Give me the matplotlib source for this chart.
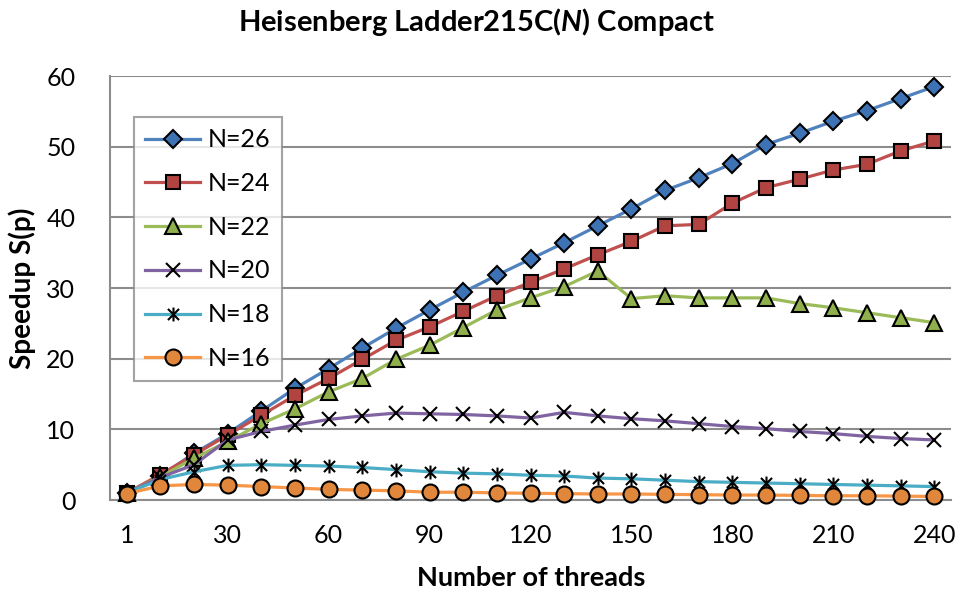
import numpy as np
import matplotlib
matplotlib.use("Agg")
import matplotlib.pyplot as plt
from matplotlib.path import Path

plt.rcParams['font.family'] = ['Lato', 'DejaVu Sans']
plt.rcParams['mathtext.fontset'] = 'custom'
plt.rcParams['mathtext.it'] = 'Lato:italic:bold'
plt.rcParams['mathtext.rm'] = 'Lato:bold'

threads = [1, 10, 20, 30, 40, 50, 60, 70, 80, 90, 100, 110, 120,
           130, 140, 150, 160, 170, 180, 190, 200, 210, 220, 230, 240]

n26 = [1.0, 3.4, 6.6, 9.4, 12.6, 15.8, 18.6, 21.5, 24.3, 26.9, 29.4, 31.8, 34.1,
       36.4, 38.8, 41.2, 43.8, 45.6, 47.6, 50.3, 51.9, 53.6, 55.1, 56.8, 58.5]
n24 = [1.0, 3.6, 6.4, 9.2, 12.0, 14.8, 17.2, 19.9, 22.6, 24.5, 26.7, 28.9, 30.8,
       32.7, 34.7, 36.6, 38.8, 39.0, 42.0, 44.2, 45.4, 46.7, 47.5, 49.4, 50.8]
n22 = [1.0, 3.3, 5.9, 8.3, 10.8, 12.9, 15.3, 17.2, 19.9, 21.9, 24.4, 26.9, 28.6,
       30.2, 32.4, 28.5, 28.9, 28.6, 28.6, 28.6, 27.8, 27.2, 26.5, 25.8, 25.1]
n20 = [1.0, 3.2, 5.0, 8.5, 9.7, 10.6, 11.4, 11.9, 12.3, 12.2, 12.1, 11.9, 11.6,
       12.4, 11.9, 11.5, 11.2, 10.8, 10.4, 10.1, 9.7, 9.4, 9.0, 8.7, 8.5]
n18 = [1.0, 2.9, 4.0, 4.9, 5.0, 4.9, 4.8, 4.6, 4.3, 4.0, 3.8, 3.7, 3.5,
       3.4, 3.1, 3.0, 2.8, 2.6, 2.5, 2.4, 2.3, 2.2, 2.1, 2.0, 1.9]
n16 = [0.9, 2.0, 2.2, 2.1, 1.9, 1.7, 1.5, 1.4, 1.3, 1.1, 1.1, 1.0, 0.95,
       0.9, 0.85, 0.85, 0.8, 0.75, 0.7, 0.7, 0.65, 0.6, 0.6, 0.55, 0.5]

labels = ["N=26", "N=24", "N=22", "N=20", "N=18", "N=16"]

# asterisk marker: an X crossed by a vertical bar
star = Path([(-1, -1), (1, 1), (-1, 1), (1, -1), (0, -1.25), (0, 1.25)],
            [Path.MOVETO, Path.LINETO, Path.MOVETO, Path.LINETO, Path.MOVETO, Path.LINETO])

styles = [
    dict(color="#4F81BD", marker="D", mfc="#3D72B5", ms=9),
    dict(color="#C0504D", marker="s", mfc="#B14440", ms=10.5),
    dict(color="#9BBB59", marker="^", mfc="#8FB04C", ms=11.5),
    dict(color="#8064A2", marker="x", mfc="none", ms=10.5),
    dict(color="#4BACC6", marker=star, mfc="none", ms=10),
    dict(color="#F79646", marker="o", mfc="#E0873C", ms=11.5),
]

fig = plt.figure(figsize=(9.63, 5.96), dpi=100)
W, H = 963, 596
ax = fig.add_axes([110 / W, (596 - 500) / H, (951 - 110) / W, (500 - 76) / H])

x = np.arange(len(threads))
series = [n26, n24, n22, n20, n18, n16]
for i, (vals, lab, st) in enumerate(zip(series, labels, styles)):
    ax.plot(x, vals, color=st["color"], lw=2.3, marker=st["marker"],
            markersize=st["ms"], markerfacecolor=st["mfc"],
            markeredgecolor="black", markeredgewidth=1.5,
            label=lab, zorder=3 + i, clip_on=False)

ax.set_xlim(-0.5, len(threads) - 0.5)
ax.set_ylim(0, 60)
ax.set_yticks(np.arange(0, 61, 10))
ax.set_xticks(x[::3])
ax.set_xticklabels([str(t) for t in threads[::3]])
ax.tick_params(axis="both", length=0, labelsize=18, colors="black")
ax.tick_params(axis="x", pad=17)
ax.tick_params(axis="y", pad=25)
ax.grid(axis="y", color="#8C8C8C", lw=1.5)
ax.set_axisbelow(True)
for s in ["top", "right"]:
    ax.spines[s].set_visible(False)
for s in ["left", "bottom"]:
    ax.spines[s].set_color("#8C8C8C")
    ax.spines[s].set_linewidth(1.5)

fig.text(531 / W, 1 - 578 / H, "Number of threads", ha="center", va="center",
         fontsize=19.5, fontweight="bold")
fig.text(22 / W, 1 - 288 / H, "Speedup S(p)", ha="center", va="center",
         rotation=90, fontsize=20, fontweight="bold")
fig.text(477 / W, 1 - 22 / H, r"Heisenberg Ladder215C($\mathit{N}$) Compact",
         ha="center", va="center", fontsize=21, fontweight="bold")

leg = ax.legend(loc="upper left", bbox_to_anchor=(134 / W, 1 - 117 / H),
                bbox_transform=fig.transFigure, fontsize=18, frameon=True,
                fancybox=False, handlelength=2.2, handletextpad=0.3,
                labelspacing=0.83, borderpad=0.45, borderaxespad=0)
leg.get_frame().set_edgecolor("#8C8C8C")
leg.get_frame().set_linewidth(1.5)
leg.set_zorder(20)

fig.savefig("out.png", dpi=100)
